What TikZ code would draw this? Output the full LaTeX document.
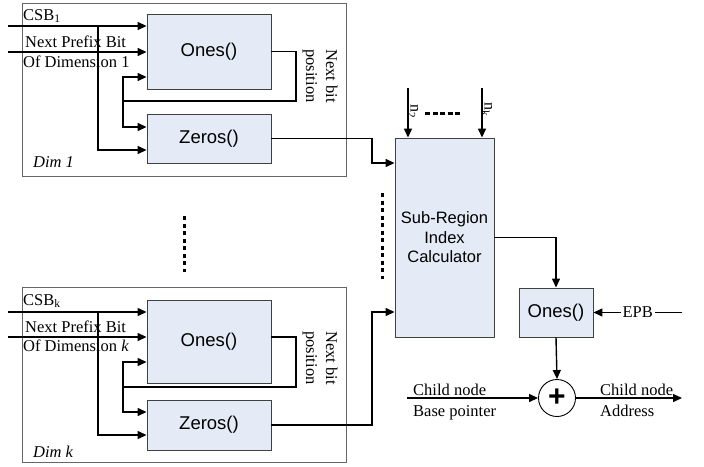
\documentclass[tikz,border=0pt]{standalone}
\usepackage{fontspec}
\setmainfont{Liberation Serif}
\setsansfont{Liberation Sans}
\usetikzlibrary{arrows.meta,calc}
\definecolor{boxblue}{HTML}{E4EBF6}

\begin{document}
\begin{tikzpicture}[x=1pt,y=-1pt,
  group/.style={draw=black!60, line width=0.8pt, inner sep=0pt, anchor=north west},
  fn/.style={draw=black!75, fill=boxblue, line width=0.9pt, inner sep=0pt,
    font=\sffamily\fontsize{18.5}{20}\selectfont},
  wire/.style={line width=1.4pt, -{Triangle[length=9pt,width=8pt]}},
  plain/.style={line width=1.4pt},
  lbl/.style={font=\fontsize{16.5}{20}\selectfont, inner sep=0pt},
  dots/.style={line width=3pt, dash pattern=on 4pt off 3.5pt},
]
\useasboundingbox (0,0) rectangle (704,466);

% ---------- dimension blocks ----------
\node[group, minimum width=324pt, minimum height=173pt] (dim1) at (22,3) {};
\node[group, minimum width=324pt, minimum height=175pt] (dimk) at (22,287) {};

\node[fn, minimum width=124pt, minimum height=75pt] (ones1) at (209,51.5) {Ones()};
\node[fn, minimum width=124pt, minimum height=49pt] (zeros1) at (209,138.5) {Zeros()};
\node[fn, minimum width=124pt, minimum height=83pt] (onesk) at (209,341.5) {Ones()};
\node[fn, minimum width=124pt, minimum height=50pt] (zerosk) at (209,425) {Zeros()};

% ---------- right-hand part ----------
\node[fn, minimum width=99pt, minimum height=199pt, align=center,
  font=\sffamily\fontsize{16.5}{19.5}\selectfont] (calc) at (444.5,237.5)
  {Sub-Region\\Index\\Calculator};
\node[fn, minimum width=74pt, minimum height=49pt] (ones2) at (556,312.5) {Ones()};
\node[circle, draw=black, fill=white, line width=0.9pt, minimum size=37pt, inner sep=0pt,
  font=\sffamily\bfseries\fontsize{30}{30}\selectfont] (plus) at (557,398) {+};

% ---------- labels, block 1 ----------
\node[lbl, anchor=base west] (csb1) at (23,20) {CSB\textsubscript{1}};
\node[lbl, anchor=base west] (np1) at (25,47) {Next Prefix Bit};
\node[lbl, anchor=base west] (od1) at (23,67) {Of Dimension 1};
\node[lbl, rotate=-90, align=center] (nbp1) at (320,76) {Next bit\\position};
\node[lbl, anchor=base west] (d1) at (33,167) {\itshape Dim 1};

% ---------- labels, block k ----------
\node[lbl, anchor=base west] (csbk) at (23,305) {CSB\textsubscript{k}};
\node[lbl, anchor=base west] (npk) at (25,332) {Next Prefix Bit};
\node[lbl, anchor=base west] (odk) at (23,351) {Of Dimension \textit{k}};
\node[lbl, rotate=-90, align=center] (nbpk) at (320,358) {Next bit\\position};
\node[lbl, anchor=base west] (dk) at (33,457) {\itshape Dim k};

% ---------- wires, block 1 ----------
\coordinate (in1a) at (8,26);
\coordinate (in1b) at (8,52);
\coordinate (br1) at (98,26);
\coordinate (fbr1) at (296,101);
\coordinate (fbl1) at (123,101);
\coordinate (j1) at (372,163);
\draw[wire] (in1a) -- (in1a -| ones1.west);
\draw[wire] (in1b) -- (in1b -| ones1.west);
\draw[wire] (br1) |- ($(zeros1.west)+(0,11.5)$);
\draw[plain] (ones1.east) -| (fbr1) -- (fbl1);
\draw[wire] (fbl1) |- ($(ones1.west)+(0,25.5)$);
\draw[wire] (fbl1) |- ($(zeros1.west)+(0,-11.5)$);
\draw[wire] (zeros1.east) -| (j1) -- (j1 -| calc.west);

% ---------- wires, block k ----------
\coordinate (inka) at (8,312);
\coordinate (inkb) at (8,337);
\coordinate (brk) at (98,312);
\coordinate (fbrk) at (296,387);
\coordinate (fblk) at (123,387);
\coordinate (jk) at (372,312);
\draw[wire] (inka) -- (inka -| onesk.west);
\draw[wire] (inkb) -- (inkb -| onesk.west);
\draw[wire] (brk) |- ($(zerosk.west)+(0,10)$);
\draw[plain] ($(onesk.east)+(0,-4.5)$) -| (fbrk) -- (fblk);
\draw[wire] (fblk) |- ($(onesk.west)+(0,20.5)$);
\draw[wire] (fblk) |- ($(zerosk.west)+(0,-13)$);
\draw[wire] (zerosk.east) -| (jk) -- (jk -| calc.west);

% ---------- calculator inputs ----------
\coordinate (n2top) at (408,88);
\coordinate (nktop) at (482,88);
\draw[wire] (n2top) -- (n2top |- calc.north);
\draw[wire] (nktop) -- (nktop |- calc.north);
\node[inner sep=0pt, rotate=-90, font=\fontsize{16}{18}\selectfont] (n2) at (413,112) {n\textsubscript{2}};
\node[inner sep=0pt, rotate=-90, font=\fontsize{16}{18}\selectfont] (nk) at (487,110) {n\textsubscript{k}};

% ---------- output path ----------
\coordinate (epb) at (682,312.5);
\coordinate (base) at (407,398);
\coordinate (addr) at (682,398);
\draw[wire] (calc.east) -| (ones2.north);
\draw[wire] (epb) -- node[lbl, fill=white, inner xsep=2pt] (epbl) {EPB} (ones2.east);
\draw[wire] (ones2.south) -- (plus.north);
\draw[wire] (base) -- (plus.west);
\draw[wire] (plus.east) -- (addr);
\node[lbl, anchor=base west] (cn1) at (413,395) {Child node};
\node[lbl, anchor=base west] (bp) at (413,416) {Base pointer};
\node[lbl, anchor=base west] (cn2) at (600,395) {Child node};
\node[lbl, anchor=base west] (ad) at (600,416) {Address};

% ---------- ellipsis marks ----------
\draw[dots, dash pattern=on 5pt off 2.5pt] (425,113) -- (462,113);
\draw[dots] (184,216) -- (184,272);
\draw[dots] (382,193) -- (382,279);
\end{tikzpicture}
\end{document}
